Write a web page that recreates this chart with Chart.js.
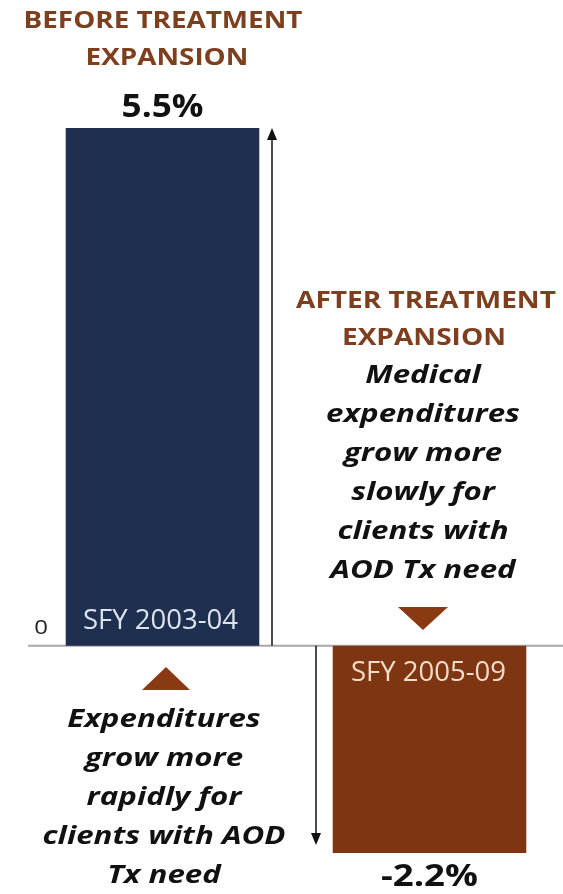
<!DOCTYPE html>
<html>
<head>
<meta charset="utf-8">
<script src="https://cdn.jsdelivr.net/npm/chart.js@4/dist/chart.umd.min.js"></script>
<style>
  html, body { margin: 0; padding: 0; background: #fff; }
  #wrap { width: 563px; height: 894px; position: relative; }
</style>
</head>
<body>
<div id="wrap"><canvas id="myChart"></canvas></div>
<script>
// data
var periods = ['SFY 2003-04', 'SFY 2005-09'];
var growth = [5.5, -2.2];
var zeroTick = '0';

// annotation texts
var beforeTitle = ['BEFORE TREATMENT', 'EXPANSION'];
var afterTitle = ['AFTER TREATMENT', 'EXPANSION'];
var afterNote = ['Medical', 'expenditures', 'grow more', 'slowly for', 'clients with', 'AOD Tx need'];
var beforeNote = ['Expenditures', 'grow more', 'rapidly for', 'clients with AOD', 'Tx need'];

var BLUE = '#1F2F50';
var BROWN = '#7E3512';
var TITLE = '#7D3F1E';
var FONT = '"Open Sans", "DejaVu Sans", sans-serif';

function drawText(ctx, s, x, y, font, color, sx) {
  ctx.save();
  ctx.font = font;
  ctx.fillStyle = color;
  ctx.textAlign = 'center';
  ctx.textBaseline = 'alphabetic';
  ctx.translate(x, y);
  ctx.scale(sx || 1, 1);
  ctx.fillText(s, 0, 0);
  ctx.restore();
}

function triangle(ctx, cx, y0, y1, w) {
  ctx.save();
  ctx.fillStyle = '#8A3A13';
  ctx.beginPath();
  ctx.moveTo(cx - w / 2, y0);
  ctx.lineTo(cx + w / 2, y0);
  ctx.lineTo(cx, y1);
  ctx.closePath();
  ctx.fill();
  ctx.restore();
}

function arrow(ctx, x, yFrom, yTo) {
  var dir = yTo < yFrom ? -1 : 1;
  ctx.save();
  ctx.strokeStyle = '#111';
  ctx.fillStyle = '#111';
  ctx.lineWidth = 1.5;
  ctx.beginPath();
  ctx.moveTo(x, yFrom);
  ctx.lineTo(x, yTo - dir * 10);
  ctx.stroke();
  ctx.beginPath();
  ctx.moveTo(x, yTo);
  ctx.lineTo(x - 5, yTo - dir * 12);
  ctx.lineTo(x + 5, yTo - dir * 12);
  ctx.closePath();
  ctx.fill();
  ctx.restore();
}

var overlay = {
  id: 'overlay',
  beforeDatasetsDraw: function(chart) {
    var ctx = chart.ctx;
    var y0 = chart.scales.y.getPixelForValue(0);
    // zero line
    ctx.save();
    ctx.strokeStyle = '#A8A8A8';
    ctx.lineWidth = 2;
    ctx.beginPath();
    ctx.moveTo(28, y0);
    ctx.lineTo(563, y0);
    ctx.stroke();
    ctx.restore();
  },
  afterDatasetsDraw: function(chart) {
    var ctx = chart.ctx;
    var ys = chart.scales.y;
    var y0 = ys.getPixelForValue(0);
    var bars = chart.getDatasetMeta(0).data;
    var up = bars[0], down = bars[1];

    // arrows
    arrow(ctx, 272, y0, ys.getPixelForValue(growth[0]));
    arrow(ctx, 316, y0, ys.getPixelForValue(growth[1]) - 8);

    // zero tick
    drawText(ctx, zeroTick, 41, y0 - 12, '20px ' + FONT, '#222', 1.2);

    // value labels
    drawText(ctx, growth[0].toFixed(1) + '%', up.x, up.y - 11, 'bold 32px ' + FONT, '#111', 1.1);
    drawText(ctx, growth[1].toFixed(1) + '%', down.x, down.y + 33, 'bold 30px ' + FONT, '#111', 1.22);

    // category labels inside bars
    drawText(ctx, periods[0], up.x - 2, y0 - 17, '27px ' + FONT, '#DDE3EE', 1.02);
    drawText(ctx, periods[1], down.x - 1, y0 + 35, '27px ' + FONT, '#F3DCCB', 1.02);

    // titles
    drawText(ctx, beforeTitle[0], 163, 28, 'bold 23px ' + FONT, TITLE, 1.21);
    drawText(ctx, beforeTitle[1], 167, 65, 'bold 23px ' + FONT, TITLE, 1.21);
    drawText(ctx, afterTitle[0], 426, 308, 'bold 23px ' + FONT, TITLE, 1.22);
    drawText(ctx, afterTitle[1], 424, 345, 'bold 23px ' + FONT, TITLE, 1.22);

    // notes
    afterNote.forEach(function(s, i) {
      drawText(ctx, s, 423, 383 + i * 39, 'italic bold 25px ' + FONT, '#111', 1.25);
    });
    beforeNote.forEach(function(s, i) {
      drawText(ctx, s, 164, 727 + i * 39, 'italic bold 25px ' + FONT, '#111', 1.25);
    });

    // pointers
    triangle(ctx, 423, 607, 630, 50);
    triangle(ctx, 166, 690, 667, 48);
  }
};

var ctx = document.getElementById('myChart').getContext('2d');
var myChart = new Chart(ctx, {
  type: 'bar',
  data: {
    labels: periods,
    datasets: [{
      data: growth,
      backgroundColor: [BLUE, BROWN],
      borderWidth: 0,
      barPercentage: 0.725,
      categoryPercentage: 1
    }]
  },
  options: {
    responsive: true,
    maintainAspectRatio: false,
    animation: false,
    layout: { padding: { top: 128, bottom: 41, left: 29, right: 0 } },
    plugins: { legend: { display: false }, tooltip: { enabled: false } },
    scales: {
      x: { display: false },
      y: { display: false, min: -2.2, max: 5.5 }
    }
  },
  plugins: [overlay]
});
</script>
</body>
</html>
